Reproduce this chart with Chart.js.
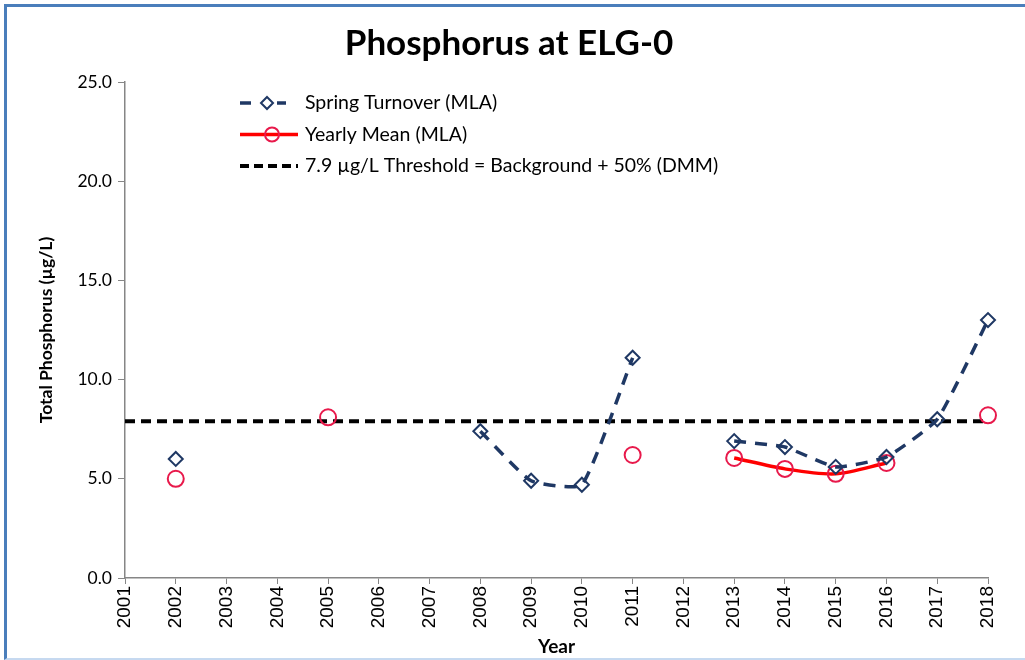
<!DOCTYPE html>
<html>
<head>
<meta charset="utf-8">
<script src="https://cdn.jsdelivr.net/npm/chart.js@4.4.1/dist/chart.umd.min.js"></script>
<style>
  html, body { margin: 0; padding: 0; background: #fff; overflow: hidden; }
  #wrap { position: relative; width: 1025px; height: 660px; overflow: hidden; }
  #frame {
    position: absolute; left: 4px; top: 4px; width: 1040px; height: 651px;
    border-top: 3px solid #4a7ebb; border-left: 3px solid #4a7ebb;
    border-bottom: 2px solid #c6d9f0; pointer-events: none;
  }
</style>
</head>
<body>
<div id="wrap">
  <canvas id="chart" width="1025" height="660"></canvas>
  <div id="frame"></div>
</div>
<script>
const years = ['2001', '2002', '2003', '2004', '2005', '2006', '2007', '2008', '2009',
  '2010', '2011', '2012', '2013', '2014', '2015', '2016', '2017', '2018'];

const springTurnover = [null, 6.0, null, null, null, null, null, 7.4, 4.9,
  4.7, 11.1, null, 6.9, 6.6, 5.6, 6.1, 8.0, 13.0];

const yearlyMean = [null, 5.0, null, null, 8.1, null, null, null, null,
  null, 6.2, null, 6.05, 5.5, 5.25, 5.8, null, 8.2];

const thresholdValue = 7.9;
const threshold = years.map(() => thresholdValue);

const yTicks = [0, 5, 10, 15, 20, 25];

const legendLabels = [
  'Spring Turnover (MLA)',
  'Yearly Mean (MLA)',
  '7.9 \u00b5g/L Threshold = Background + 50% (DMM)'
];

const navy = '#1f3864';
const red = '#ff0000';
const circleRed = '#e8194b';

// Legend drawn inside the plot area
const insideLegend = {
  id: 'insideLegend',
  afterDraw(chart) {
    const ctx = chart.ctx;
    const a = chart.chartArea;
    const x0 = a.left + 115;
    const x1 = a.left + 173;
    ctx.save();
    legendLabels.forEach((label, i) => {
      const y = a.top + 21 + i * 31.5;
      ctx.lineCap = 'butt';
      if (i === 0) {
        ctx.strokeStyle = navy;
        ctx.lineWidth = 3.5;
        ctx.beginPath();
        ctx.moveTo(x0, y); ctx.lineTo(x0 + 11, y);
        ctx.moveTo(x0 + 37, y); ctx.lineTo(x0 + 46, y);
        ctx.stroke();
        ctx.lineWidth = 2;
        ctx.beginPath();
        ctx.moveTo(x0 + 27, y - 6); ctx.lineTo(x0 + 33, y);
        ctx.lineTo(x0 + 27, y + 6); ctx.lineTo(x0 + 21, y);
        ctx.closePath();
        ctx.stroke();
      } else if (i === 1) {
        ctx.strokeStyle = red;
        ctx.lineWidth = 3.5;
        ctx.beginPath();
        ctx.moveTo(x0, y); ctx.lineTo(x1, y);
        ctx.stroke();
        ctx.strokeStyle = circleRed;
        ctx.lineWidth = 2;
        ctx.beginPath();
        ctx.arc(x0 + 32, y, 7, 0, Math.PI * 2);
        ctx.stroke();
      } else {
        ctx.strokeStyle = '#000';
        ctx.lineWidth = 4;
        ctx.setLineDash([9, 5]);
        ctx.beginPath();
        ctx.moveTo(x0, y); ctx.lineTo(x1, y);
        ctx.stroke();
        ctx.setLineDash([]);
      }
      ctx.fillStyle = '#000';
      ctx.font = '19.5px Lato';
      ctx.textBaseline = 'middle';
      ctx.textAlign = 'left';
      ctx.fillText(label, x1 + 7, y);
    });
    ctx.restore();
  }
};

new Chart(document.getElementById('chart'), {
  type: 'line',
  data: {
    labels: years,
    datasets: [
      {
        label: legendLabels[0],
        data: springTurnover,
        borderColor: navy,
        borderWidth: 3.5,
        borderDash: [12, 9],
        tension: 0.15,
        spanGaps: false,
        pointStyle: 'rectRot',
        pointRadius: 7,
        pointBorderWidth: 2,
        pointBorderColor: navy,
        pointBackgroundColor: 'rgba(255,255,255,0)'
      },
      {
        label: legendLabels[1],
        data: yearlyMean,
        borderColor: red,
        borderWidth: 3.5,
        tension: 0.3,
        spanGaps: false,
        pointStyle: 'circle',
        pointRadius: 8,
        pointBorderWidth: 2,
        pointBorderColor: circleRed,
        pointBackgroundColor: 'rgba(255,255,255,0)'
      },
      {
        label: legendLabels[2],
        data: threshold,
        borderColor: '#000',
        borderWidth: 4,
        borderDash: [10, 6],
        pointRadius: 0
      }
    ]
  },
  options: {
    responsive: false,
    animation: false,
    layout: { padding: { top: 8, left: 30, right: 37, bottom: 2 } },
    plugins: {
      legend: { display: false },
      tooltip: { enabled: false },
      title: {
        display: true,
        text: 'Phosphorus at ELG-0',
        color: '#000',
        font: { family: 'Lato', size: 35, weight: 'bold', lineHeight: 1.2 },
        padding: { top: 15, bottom: 17 }
      }
    },
    scales: {
      x: {
        type: 'category',
        offset: false,
        afterFit(scale) { scale.height = 80; },
        grid: { display: true, drawOnChartArea: false, drawTicks: true, tickLength: 6, color: '#868686' },
        border: { display: true, color: '#868686', width: 1.5 },
        ticks: {
          autoSkip: false, maxRotation: 90, minRotation: 90, padding: 2,
          color: '#000', font: { family: 'Liberation Sans', size: 19 }
        },
        title: {
          display: true, text: 'Year', color: '#000',
          font: { family: 'Lato', size: 19, weight: 'bold', lineHeight: 1.2 },
          padding: { top: 0, bottom: 0 }
        }
      },
      y: {
        min: 0,
        max: 25,
        afterFit(scale) { scale.width = 95; },
        afterBuildTicks(scale) { scale.ticks = yTicks.map(v => ({ value: v })); },
        grid: { display: true, drawOnChartArea: false, drawTicks: true, tickLength: 7, color: '#868686' },
        border: { display: true, color: '#868686', width: 1.5 },
        ticks: {
          padding: 6, color: '#000',
          font: { family: 'Lato', size: 17.5 },
          callback: (v) => Number(v).toFixed(1)
        },
        title: {
          display: true, text: 'Total Phosphorus (\u00b5g/L)', color: '#000',
          font: { family: 'Lato', size: 17.5, weight: 'bold', lineHeight: 1.2 },
          padding: { top: 6, bottom: 0 }
        }
      }
    }
  },
  plugins: [insideLegend]
});
</script>
</body>
</html>
